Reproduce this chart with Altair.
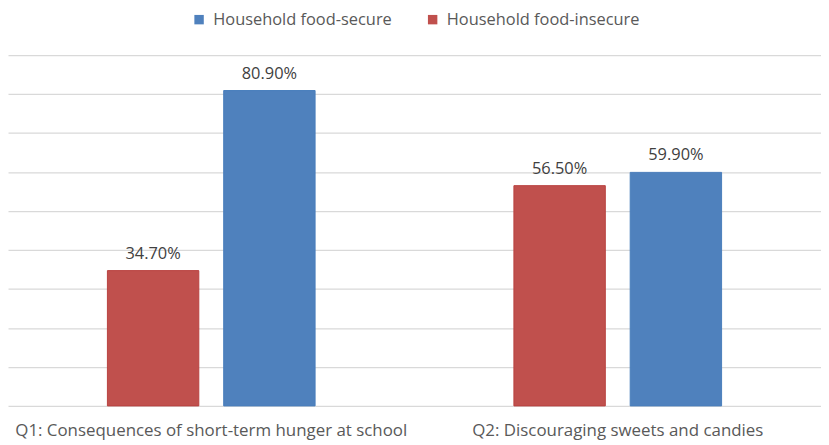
import altair as alt
import pandas as pd

categories = ["Q1: Consequences of short-term hunger at school", "Q2: Discouraging sweets and candies"]
groups = ["Household food-insecure", "Household food-secure"]
legend_order = ["Household food-secure", "Household food-insecure"]
insecure = [34.7, 56.5]
secure = [80.9, 59.9]

rows = []
for i, c in enumerate(categories):
    rows.append({"question": c, "group": groups[0], "value": insecure[i]})
    rows.append({"question": c, "group": groups[1], "value": secure[i]})
df = pd.DataFrame(rows)

FONT = "Open Sans"

x = alt.X("question:N", sort=categories,
          scale=alt.Scale(paddingInner=0, paddingOuter=0),
          axis=alt.Axis(title=None, labelAngle=0, ticks=False, domain=False,
                        labelFontSize=17, labelFont=FONT, labelColor="#595959",
                        labelPadding=17, labelLimit=0))
xo = alt.XOffset("group:N", sort=groups,
                 scale=alt.Scale(paddingInner=0.214, paddingOuter=0.855))
y = alt.Y("value:Q", scale=alt.Scale(domain=[0, 90]),
          axis=alt.Axis(title=None, labels=False, ticks=False, domain=False,
                        values=list(range(0, 100, 10)), gridColor="#d9d9d9",
                        gridWidth=1.3))

bars = alt.Chart(df).mark_bar(strokeWidth=1).encode(
    x=x, xOffset=xo, y=y,
    color=alt.Color("group:N",
                    scale=alt.Scale(domain=legend_order, range=["#4f81bd", "#c0504d"]),
                    legend=alt.Legend(title=None, orient="none", direction="horizontal",
                                      legendX=184, legendY=-44, symbolType="square",
                                      symbolSize=90, symbolStrokeWidth=0,
                                      labelFont=FONT, labelFontSize=16.5, labelLimit=0,
                                      labelColor="#595959", labelOffset=6,
                                      columnPadding=32)),
    stroke=alt.Stroke("group:N",
                      scale=alt.Scale(domain=legend_order, range=["#4a7ebb", "#b8423f"]),
                      legend=None),
)

labels = alt.Chart(df).transform_calculate(
    label="format(datum.value, '.2f') + '%'"
).mark_text(baseline="bottom", dy=-9, fontSize=16.5, font=FONT, color="#404040").encode(
    x=x, xOffset=xo, y=y, text="label:N"
)

chart = (bars + labels).properties(
    width=818, height=353,
    autosize=alt.AutoSizeParams(type="none"),
    padding={"left": 0, "top": 46, "right": 0, "bottom": 37},
).configure_view(stroke=None)

chart.save("out.html", embed_options={"renderer": "svg", "actions": False})
